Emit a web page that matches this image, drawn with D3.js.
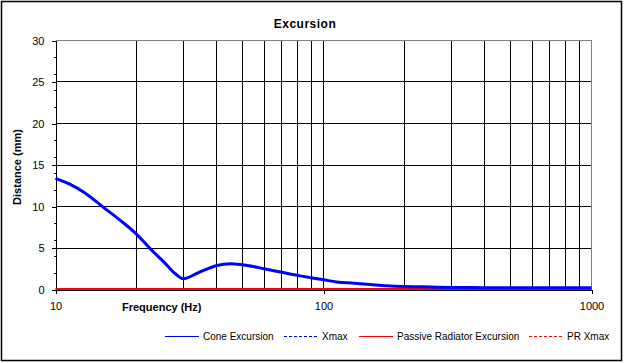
<!DOCTYPE html>
<html>
<head>
<meta charset="utf-8">
<script src="https://cdn.jsdelivr.net/npm/d3@7"></script>
<style>
  body { margin: 0; background: #fff; }
  svg { font-family: "Liberation Sans", Arial, sans-serif; }
</style>
</head>
<body>
<svg width="625" height="363"></svg>
<script>
// values
const freqs = [10, 11.3, 12.8, 15.1, 17.5, 20, 22.6, 25.4, 28, 30, 34, 40, 45, 52, 60, 69, 80, 92, 100, 112, 130, 150, 172, 200, 230, 265, 330, 400, 500, 700, 1000];
const coneExcursion = [13.4, 12.7, 11.7, 9.9, 8.3, 6.7, 4.9, 3.3, 1.9, 1.3, 2.0, 2.9, 3.1, 2.9, 2.5, 2.1, 1.7, 1.36, 1.17, 0.9, 0.76, 0.6, 0.45, 0.36, 0.32, 0.28, 0.24, 0.22, 0.2, 0.2, 0.2];
const prExcursion = [0.05, 0.05, 0.05, 0.05, 0.05, 0.05, 0.05, 0.05, 0.05, 0.05, 0.05, 0.05, 0.05, 0.05, 0.05, 0.05, 0.05, 0.05, 0.05, 0.05, 0.05, 0.05, 0.05, 0.05, 0.05, 0.05, 0.05, 0.05, 0.05, 0.05, 0.05];
const yTicks = [0, 5, 10, 15, 20, 25, 30];
const yMinorTicks = [0, 2, 4, 6, 8, 10, 12, 14, 16, 18, 20, 22, 24, 26, 28, 30];
const xTicks = [10, 100, 1000];
const xGrid = [20, 30, 40, 50, 60, 70, 80, 90, 100, 200, 300, 400, 500, 600, 700, 800, 900];
const legendNames = ["Cone Excursion", "Xmax", "Passive Radiator Excursion", "PR Xmax"];

let svg = d3.select("svg");

svg.append("rect")
  .attr("x", 1.5).attr("y", 1.5)
  .attr("width", 620).attr("height", 359)
  .attr("fill", "#fff")
  .attr("stroke", "#000")
  .attr("stroke-width", 1.5);

let xScale = d3.scaleLog().domain([10, 1000]).range([55.5, 591.5]),
  yScale = d3.scaleLinear().domain([0, 30]).range([289.5, 40.5]);

// grid
let grid = svg.append("g").attr("shape-rendering", "crispEdges");
grid.selectAll(".vgrid")
  .data(xGrid)
  .enter()
  .append("line")
  .attr("class", "vgrid")
  .attr("x1", function(d) { return Math.round(xScale(d) - 0.5) + 0.5; })
  .attr("x2", function(d) { return Math.round(xScale(d) - 0.5) + 0.5; })
  .attr("y1", yScale(30))
  .attr("y2", yScale(0))
  .attr("stroke", "#000");

grid.selectAll(".hgrid")
  .data(yTicks.filter(function(d) { return d > 0 && d < 30; }))
  .enter()
  .append("line")
  .attr("class", "hgrid")
  .attr("x1", xScale(10))
  .attr("x2", xScale(1000))
  .attr("y1", function(d) { return Math.round(yScale(d) - 0.5) + 0.5; })
  .attr("y2", function(d) { return Math.round(yScale(d) - 0.5) + 0.5; })
  .attr("stroke", "#000");

// gray top / right border of plot area
grid.append("path")
  .attr("d", "M" + xScale(10) + "," + yScale(30) + "H" + xScale(1000) + "V" + yScale(0))
  .attr("fill", "none")
  .attr("stroke", "#808080");

// axes
svg.append("g")
  .attr("transform", "translate(" + xScale(10) + ",0)")
  .call(d3.axisLeft(yScale).tickValues(yTicks).tickSize(4).tickPadding(7).tickSizeOuter(0));
svg.append("g")
  .attr("transform", "translate(" + xScale(10) + ",0)")
  .call(d3.axisLeft(yScale).tickValues(yMinorTicks).tickSize(2).tickFormat("").tickSizeOuter(0));
svg.append("g")
  .attr("transform", "translate(0," + yScale(0) + ")")
  .call(d3.axisBottom(xScale).tickValues(xTicks).tickSize(4).tickPadding(9).tickFormat(d3.format("d")).tickSizeOuter(0));

svg.selectAll(".domain").attr("stroke", "#000").attr("shape-rendering", "crispEdges");
svg.selectAll(".tick line").attr("stroke", "#000").attr("shape-rendering", "crispEdges");
svg.selectAll(".tick text").attr("font-size", 11).attr("font-family", "'Liberation Sans', Arial, sans-serif").attr("fill", "#000");

// series
let line = d3.line()
  .x(function(d) { return xScale(d[0]); })
  .y(function(d) { return yScale(d[1]); })
  .curve(d3.curveMonotoneX);

svg.append("path")
  .datum(freqs.map(function(f, i) { return [f, prExcursion[i]]; }))
  .attr("d", line)
  .attr("fill", "none")
  .attr("stroke", "#ff0000")
  .attr("stroke-width", 2);

svg.append("path")
  .datum(freqs.map(function(f, i) { return [f, coneExcursion[i]]; }))
  .attr("d", line)
  .attr("fill", "none")
  .attr("stroke", "#0000ff")
  .attr("stroke-width", 3);

// titles
svg.append("text")
  .attr("x", 305).attr("y", 28)
  .attr("text-anchor", "middle")
  .attr("font-size", 12).attr("font-weight", "bold")
  .attr("letter-spacing", 0.5)
  .text("Excursion");

svg.append("text")
  .attr("x", 122).attr("y", 311)
  .attr("font-size", 11).attr("font-weight", "bold")
  .text("Frequency (Hz)");

svg.append("text")
  .attr("transform", "translate(21,167) rotate(-90)")
  .attr("text-anchor", "middle")
  .attr("font-size", 11).attr("font-weight", "bold")
  .text("Distance (mm)");

// legend
const legendX = [165, 284, 359, 529];
const legendColors = ["#0000ff", "#0000ff", "#ff0000", "#ff0000"];
const legendDash = [null, "3,2", null, "3,2"];
let legend = svg.append("g").selectAll("g")
  .data(legendNames)
  .enter()
  .append("g")
  .attr("transform", function(d, i) { return "translate(" + legendX[i] + ",336.5)"; });
legend.append("line")
  .attr("x1", 0).attr("x2", 34)
  .attr("stroke", function(d, i) { return legendColors[i]; })
  .attr("stroke-dasharray", function(d, i) { return legendDash[i]; });
legend.append("text")
  .attr("x", 38).attr("y", 3.5)
  .attr("font-size", 10)
  .text(function(d) { return d; });
</script>
</body>
</html>
